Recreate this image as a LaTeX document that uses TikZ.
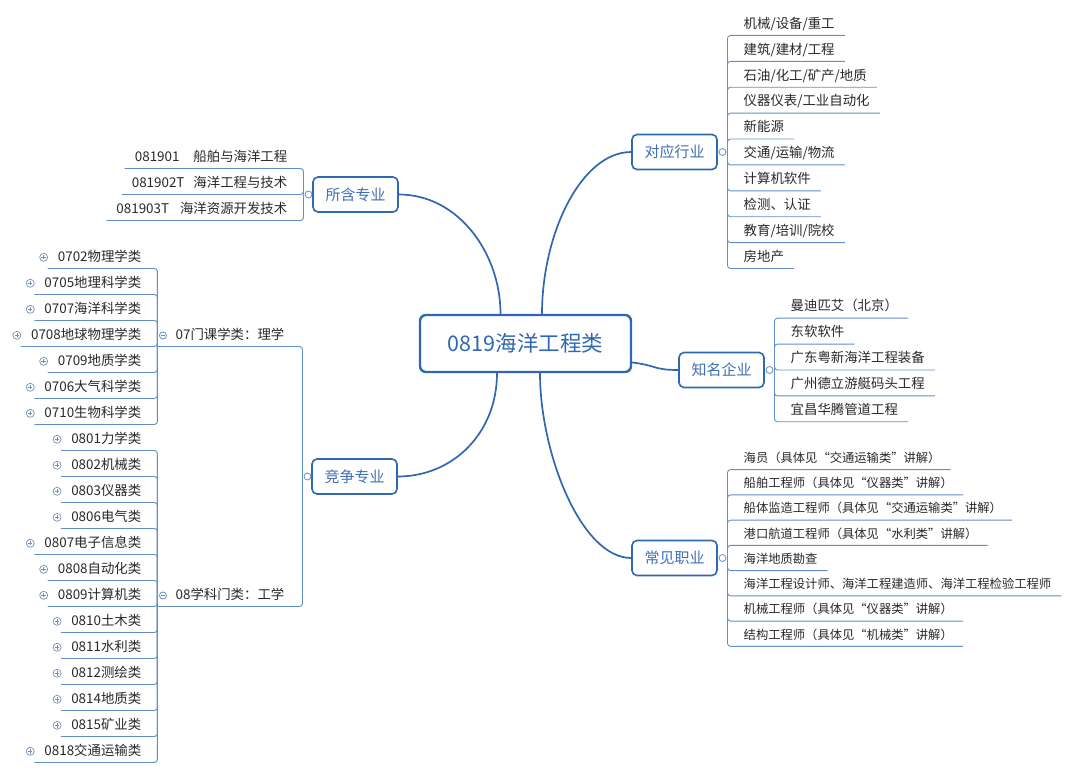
\documentclass[tikz,border=0pt]{standalone}
\usepackage{fontspec}
\setmainfont{Noto Sans CJK SC}
\definecolor{boxblue}{RGB}{47,104,178}
\definecolor{lblblue}{RGB}{62,110,180}
\definecolor{twigblue}{RGB}{100,142,200}
\definecolor{leafgray}{RGB}{40,40,40}
\definecolor{plusgray}{RGB}{115,142,185}

\begin{document}
\begin{tikzpicture}[x=1pt,y=-1pt,
  box/.style={draw=boxblue,fill=white,line width=1.6pt,rounded corners=5pt,minimum width=85pt,minimum height=35pt,text=lblblue,font=\fontsize{15pt}{18pt}\selectfont},
  hub/.style={box,line width=2.4pt,rounded corners=6pt,minimum width=211pt,minimum height=57pt,text=boxblue,font=\fontsize{21.5pt}{26pt}\selectfont},
  trunk/.style={draw=boxblue,line width=1.7pt},
  twig/.style={draw=twigblue,line width=0.9pt,rounded corners=3pt},
  tog/.style={circle,draw=twigblue,fill=white,line width=0.8pt,minimum size=7pt,inner sep=0pt,outer sep=1.5pt},
  togm/.style={tog,path picture={\draw[twigblue,line width=0.6pt] (path picture bounding box.center) ++(-2pt,0) -- ++(4pt,0);}},
  plus/.style={circle,draw=plusgray,line width=0.7pt,minimum size=8pt,inner sep=0pt,
    path picture={\draw[plusgray,line width=0.7pt] (path picture bounding box.center) ++(-2.2pt,0) -- ++(4.4pt,0) (path picture bounding box.center) ++(0,-2.2pt) -- ++(0,4.4pt);}},
  leaf/.style={text=leafgray,font=\fontsize{13.4pt}{16pt}\selectfont,inner xsep=10pt,inner ysep=4pt,text height=11pt,text depth=3pt},
  job/.style={leaf,font=\fontsize{12.3pt}{15pt}\selectfont},
  mid/.style={leaf,inner xsep=18pt}]

\useasboundingbox (0,0) rectangle (1080,775);

\node[hub] (ctr) at (525.5,343.5) {0819海洋工程类};
\node[box] (zy) at (355.5,194.5) {所含专业};
\node[box] (jz) at (354.5,476.5) {竞争专业};
\node[box] (hy) at (674.5,152) {对应行业};
\node[box] (qy) at (721.5,370) {知名企业};
\node[box] (zc) at (674.5,558) {常见职业};

\draw[trunk] ([xshift=-25pt]ctr.north) .. controls +(0,-60) and +(60,0) .. (zy.east);
\draw[trunk] ([xshift=16.5pt]ctr.north) .. controls +(0,-80) and +(-50,0) .. (hy.west);
\draw[trunk] ([xshift=-28.5pt]ctr.south) .. controls +(0,60) and +(55,0) .. (jz.east);
\draw[trunk] ([xshift=14.5pt]ctr.south) .. controls +(0,80) and +(-50,0) .. (zc.west);
\draw[trunk] ([yshift=-19pt]ctr.east) .. controls +(25,3) and +(-25,0) .. (qy.west);

\node[tog] (hyT) at (722.5,152) {};
\node[tog] (qyT) at (769.5,370) {};
\node[tog] (zcT) at (722.5,558) {};
\node[tog] (zyT) at (308.5,194.5) {};
\node[tog] (jzT) at (307.5,476.5) {};

\foreach \t [count=\i] in {{机械/设备/重工},{建筑/建材/工程},{石油/化工/矿产/地质},{仪器仪表/工业自动化},{新能源},
  {交通/运输/物流},{计算机软件},{检测、认证},{教育/培训/院校},{房地产}}{
  \node[leaf,anchor=south west] (hy\i) at ([shift={(6,{25.9*(\i-5.5)})}]hyT.east) {\t};
  \draw[twig] (hyT.east) |- (hy\i.south east);
}

\foreach \t [count=\i] in {曼迪匹艾（北京）,东软软件,广东粤新海洋工程装备,广州德立游艇码头工程,宜昌华腾管道工程}{
  \node[leaf,anchor=south west] (qy\i) at ([shift={(6,{25.9*(\i-3)})}]qyT.east) {\t};
  \draw[twig] (qyT.east) |- (qy\i.south east);
}

\foreach \t [count=\i] in {海员（具体见“交通运输类”讲解）,船舶工程师（具体见“仪器类”讲解）,
  船体监造工程师（具体见“交通运输类”讲解）,港口航道工程师（具体见“水利类”讲解）,海洋地质勘查,
  海洋工程设计师、海洋工程建造师、海洋工程检验工程师,机械工程师（具体见“仪器类”讲解）,
  结构工程师（具体见“机械类”讲解）}{
  \node[job,anchor=south west] (zc\i) at ([shift={(6,{25.25*(\i-4.5)})}]zcT.east) {\t};
  \draw[twig] (zcT.east) |- (zc\i.south east);
}

\foreach \t [count=\i] in {081901\hspace{14pt}船舶与海洋工程,081902T\hspace{9pt}海洋工程与技术,081903T\hspace{11pt}海洋资源开发技术}{
  \node[leaf,anchor=south east] (zy\i) at ([shift={(-6,{26*(\i-2)})}]zyT.west) {\t};
  \draw[twig] (zyT.west) |- (zy\i.south west);
}

\node[mid,anchor=south east] (l07) at ([shift={(0,-130)}]jzT.west) {07门课学类：理学};
\node[mid,anchor=south east] (l08) at ([shift={(0,130)}]jzT.west) {08学科门类：工学};
\draw[twig] (jzT.west) |- (l07.south west);
\draw[twig] (jzT.west) |- (l08.south west);
\node[togm] at ([shift={(5.5,-11)}]l07.south west) {};
\node[togm] at ([shift={(5.5,-11)}]l08.south west) {};

\foreach \t [count=\i] in {0702物理学类,0705地理科学类,0707海洋科学类,0708地球物理学类,0709地质学类,0706大气科学类,0710生物科学类}{
  \node[leaf,anchor=south east] (a\i) at ([shift={(-6,{26*(\i-4)})}]l07.south west) {\t};
  \draw[twig] (l07.south west) |- (a\i.south west);
  \node[plus] at ([xshift=-4pt]a\i.west) {};
}

\foreach \t [count=\i] in {0801力学类,0802机械类,0803仪器类,0806电气类,0807电子信息类,0808自动化类,0809计算机类,
  0810土木类,0811水利类,0812测绘类,0814地质类,0815矿业类,0818交通运输类}{
  \node[leaf,anchor=south east] (b\i) at ([shift={(-6,{26*(\i-7)})}]l08.south west) {\t};
  \draw[twig] (l08.south west) |- (b\i.south west);
  \node[plus] at ([xshift=-4pt]b\i.west) {};
}

\end{tikzpicture}
\end{document}
